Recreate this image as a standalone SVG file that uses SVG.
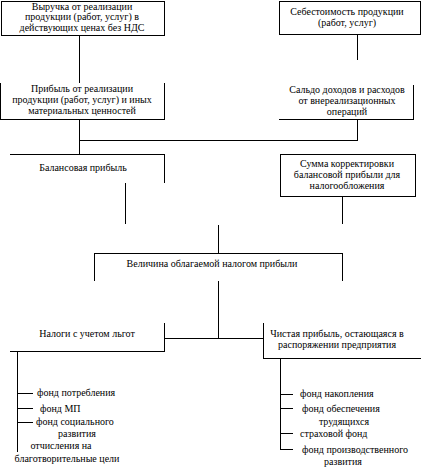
<svg xmlns="http://www.w3.org/2000/svg" width="421" height="470" viewBox="0 0 421 470">
<style>
.b{fill:none;stroke:#000;stroke-width:1;shape-rendering:crispEdges}
.l{fill:none;stroke:#000;stroke-width:1;shape-rendering:crispEdges}
text{font-family:"Liberation Serif","Times New Roman",serif;font-size:10px;fill:#000}
.c{text-anchor:middle}
</style>
<rect width="421" height="470" fill="#fff"/>
<g id="n1">
<rect class="b" x="1.5" y="1.5" width="163" height="34"/>
<text class="c" x="82" y="10">Выручка от реализации</text>
<text class="c" x="82" y="20">продукции (работ, услуг) в</text>
<text class="c" x="82" y="31">действующих ценах без НДС</text>
</g>
<g id="n2">
<rect class="b" x="279.5" y="1.5" width="141" height="33"/>
<text class="c" x="347" y="15">Себестоимость продукции</text>
<text class="c" x="347" y="26">(работ, услуг)</text>
</g>
<g id="n3">
<path class="b" d="M0.5 83V119.5H164.5V83"/>
<text class="c" x="82" y="92">Прибыль от реализации</text>
<text class="c" x="82" y="103">продукции (работ, услуг) и иных</text>
<text class="c" x="82" y="114">материальных ценностей</text>
</g>
<g id="n4">
<path class="b" d="M279 119.5H413.5V85"/>
<text class="c" x="347" y="93">Сальдо доходов и расходов</text>
<text class="c" x="347" y="104">от внереализационных</text>
<text class="c" x="347" y="115">операций</text>
</g>
<g id="n5">
<path class="b" d="M10 154.5H164.5V183"/>
<text class="c" x="83" y="171">Балансовая прибыль</text>
</g>
<g id="n6">
<rect class="b" x="280.5" y="154.5" width="135" height="42"/>
<text class="c" x="347" y="167">Сумма корректировки</text>
<text class="c" x="347" y="178">балансовой прибыли для</text>
<text class="c" x="347" y="189">налогообложения</text>
</g>
<g id="n7">
<path class="b" d="M94.5 281V253.5H342.5V281"/>
<text class="c" x="212" y="267">Величина облагаемой налогом прибыли</text>
</g>
<g id="n8">
<path class="b" d="M10 351.5H164.5V323"/>
<text class="c" x="87" y="337">Налоги с учетом льгот</text>
</g>
<g id="n9">
<path class="b" d="M263.5 323V358.5H421"/>
<text class="c" x="337" y="337">Чистая прибыль, остающаяся в</text>
<text class="c" x="337" y="348">распоряжении предприятия</text>
</g>
<g id="left-list">
<text x="37" y="396">фонд потребления</text>
<text x="40" y="412">фонд МП</text>
<text x="36" y="425">фонд социального</text>
<text class="c" x="77" y="437">развития</text>
<text class="c" x="61" y="449">отчисления на</text>
<text class="c" x="67" y="462">благотворительные цели</text>
</g>
<g id="right-list">
<text x="300" y="397">фонд накопления</text>
<text x="302" y="412">фонд обеспечения</text>
<text class="c" x="344" y="425">трудящихся</text>
<text x="300" y="437">страховой фонд</text>
<text x="302" y="453">фонд производственного</text>
<text class="c" x="343" y="465">развития</text>
</g>
<g id="connectors">
<path class="l" d="M79.5 35V83"/>
<path class="l" d="M357.5 35V60"/>
<path class="l" d="M79.5 119V154"/>
<path class="l" d="M357.5 119V140.5H79"/>
<path class="l" d="M125.5 183V224"/>
<path class="l" d="M342.5 196V224"/>
<path class="l" d="M218.5 225V253"/>
<path class="l" d="M218.5 281V338"/>
<path class="l" d="M164 338.5H263"/>
<path class="l" d="M17.5 351V452"/>
<path class="l" d="M17 393.5H33M17 408.5H33M17 422.5H33"/>
<path class="l" d="M280.5 358V449"/>
<path class="l" d="M280 394.5H293M280 408.5H293M280 433.5H293M280 449.5H293"/>
</g>
</svg>
